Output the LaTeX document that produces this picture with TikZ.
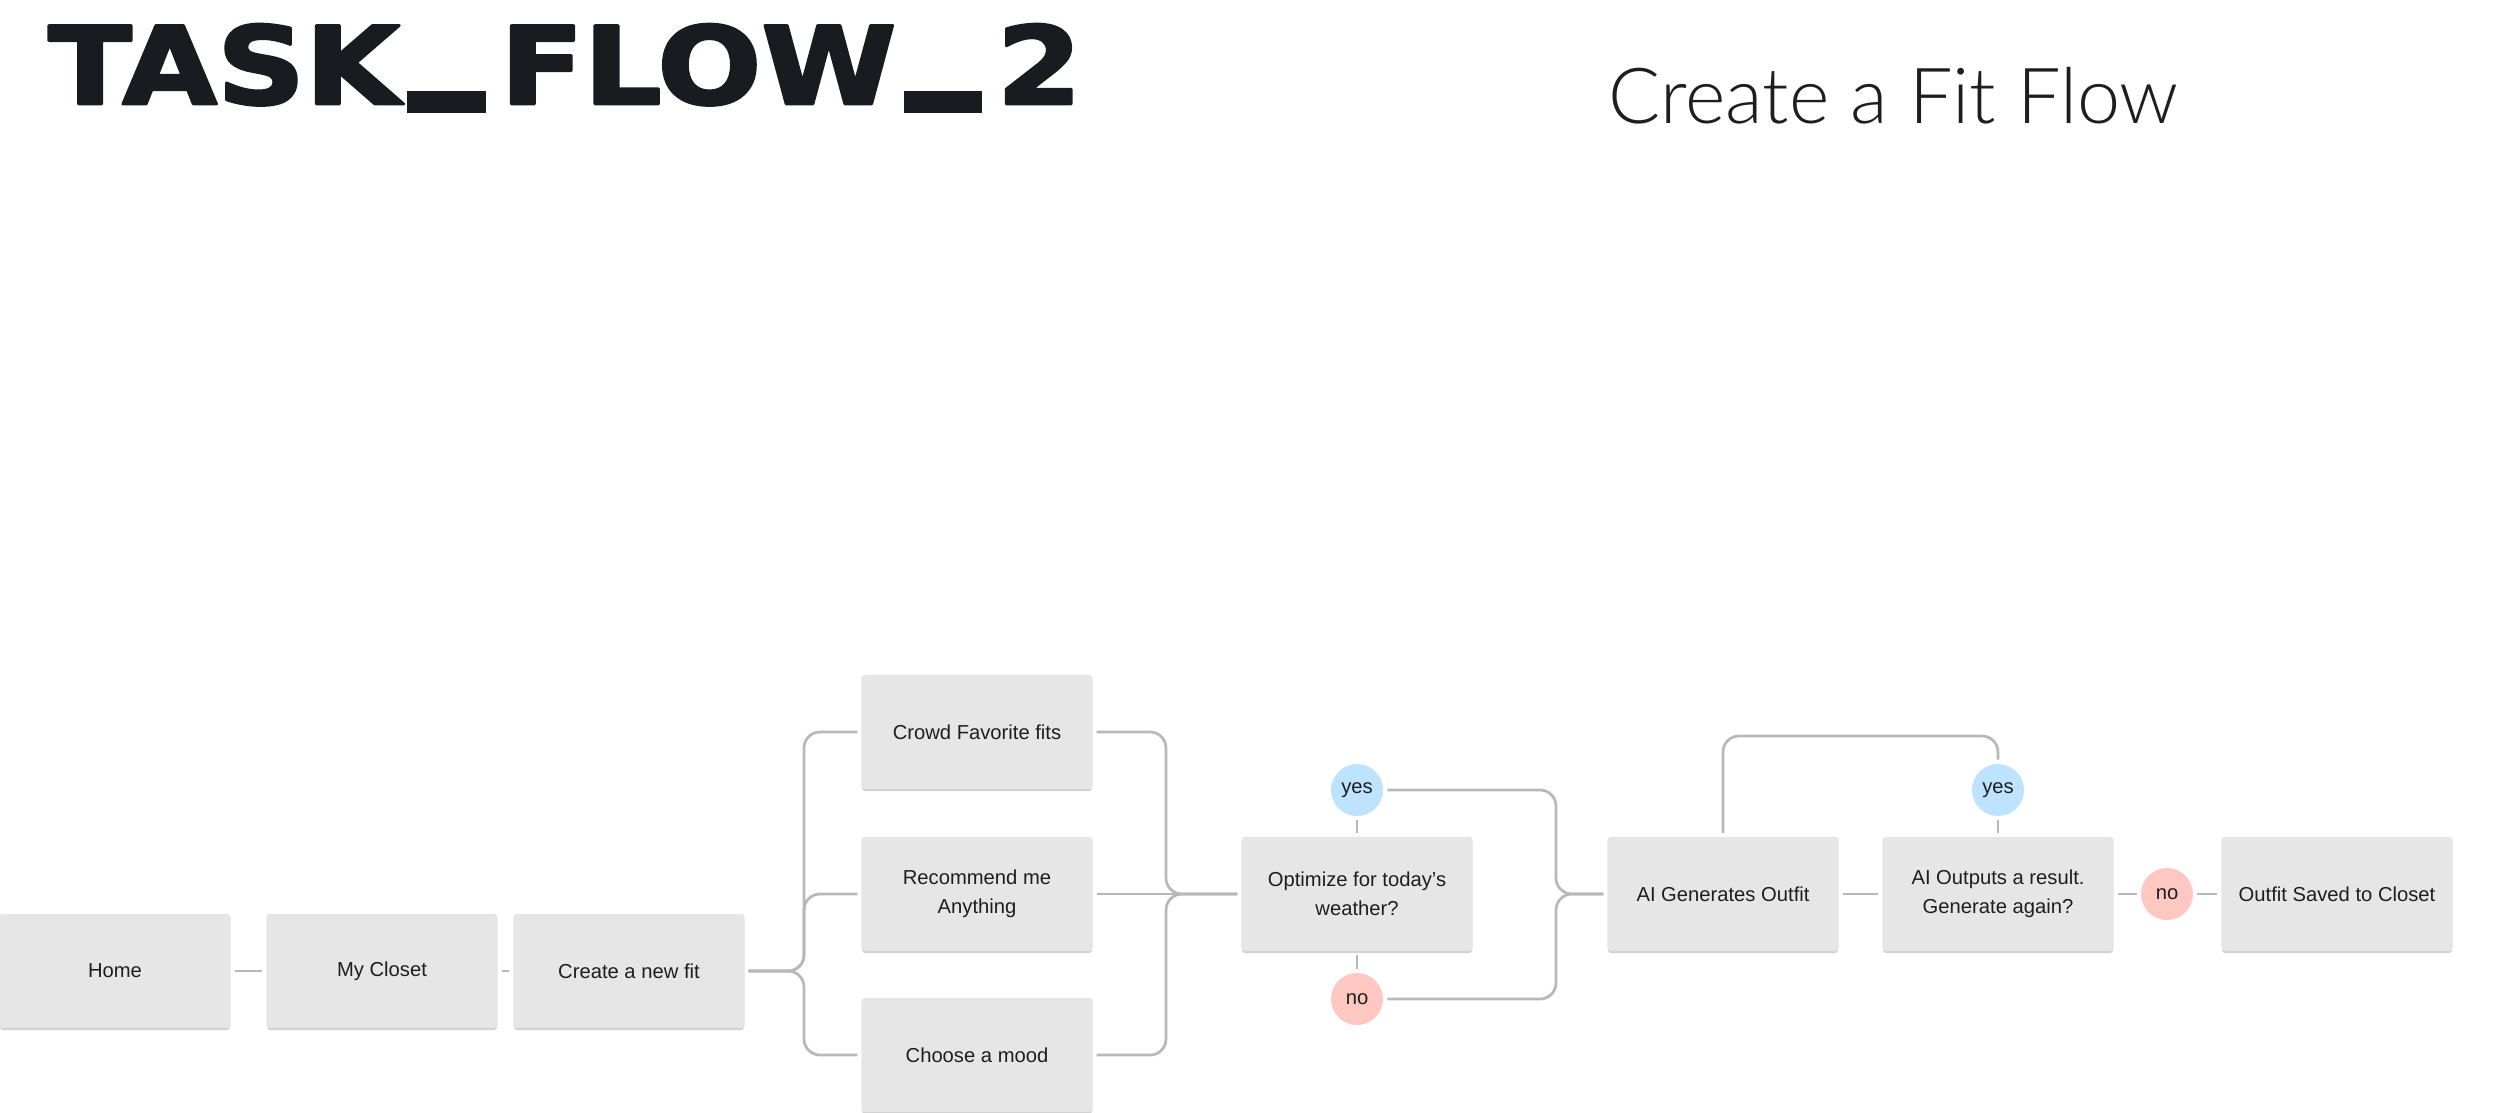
\documentclass[tikz,border=0pt]{standalone}
\usepackage{fontspec}
\setmainfont{Liberation Sans}
\newfontfamily\titlefont{DejaVu Sans}[BoldFeatures={FakeBold=2.5}]
\newfontfamily\headfont{Lato Light}
\usetikzlibrary{shadows}

\definecolor{ink}{HTML}{1E1E1E}
\definecolor{titleink}{HTML}{181B20}
\definecolor{boxfill}{HTML}{E6E6E6}
\definecolor{linkgray}{HTML}{B8B8B8}
\definecolor{yesblue}{HTML}{BDE3FF}
\definecolor{nopink}{HTML}{FFC7C2}

% thick bar used in place of the underscore of the board title
\newcommand{\titlebar}{\kern0.6pt\rule[-0.8pt]{6.4pt}{2pt}\kern1.2pt}

\begin{document}
\begin{tikzpicture}[x=0.2mm, y=-0.2mm, line join=round,
    box/.style={rectangle, rounded corners=0.6mm, fill=boxfill, draw=black!10,
      line width=0.25mm, minimum width=46mm, minimum height=22.6mm,
      align=center, text=ink, font=\fontsize{11.5}{16.5}\selectfont,
      drop shadow={shadow xshift=0mm, shadow yshift=-0.5mm, fill=black!30, opacity=0.6}},
    yesdot/.style={circle, fill=yesblue, minimum size=10.4mm, inner sep=0,
      text=ink, font=\fontsize{11.5}{14}\selectfont},
    nodot/.style={yesdot, fill=nopink},
    link/.style={draw=linkgray, line width=0.55mm, rounded corners=3.2mm,
      shorten <=0.8mm, shorten >=0.8mm}]
  % page frame (keeps the margins of the board)
  \useasboundingbox (0,0) rectangle (2500,1112);

  % headings
  \node[anchor=base west, inner sep=0, text=titleink] (title) at (48,104)
    {\resizebox{206.6mm}{16mm}{\titlefont\bfseries TASK\titlebar FLOW\titlebar 2}};
  \node[anchor=base west, inner sep=0, text=ink,
    font=\headfont\fontsize{44}{50}\selectfont] (heading) at (1608,123) {Create a Fit Flow};

  % entry path
  \node[box] (home) at (115,971) {Home};
  \node[box] (closet) at (382,971) {My Closet};
  \node[box] (newfit) at (629,971) {Create a new fit};

  % three ways to start a fit
  \node[box] (crowd) at (977,732) {Crowd Favorite fits};
  \node[box] (recommend) at (977,894) {Recommend me\\Anything};
  \node[box] (mood) at (977,1055) {Choose a mood};

  % weather question
  \node[box] (weather) at (1357,894) {Optimize for today’s\\weather?};
  \node[yesdot] (yesA) at (1357,790) {yes};
  \node[nodot] (noA) at (1357,999) {no};

  % generation loop
  \node[box] (generate) at (1723,894) {AI Generates Outfit};
  \node[box] (result) at (1998,894) {AI Outputs a result.\\Generate again?};
  \node[yesdot] (yesB) at (1998,790) {yes};
  \node[nodot] (noB) at (2167,894) {no};
  \node[box] (saved) at (2337,894) {Outfit Saved to Closet};

  % fork points
  \coordinate (splitL) at (804,971);
  \coordinate (joinL) at (1166,894);
  \coordinate (joinW) at (1556,894);
  \coordinate (looptop) at (1998,736);

  \draw[link] (home) -- (closet);
  \draw[link] (closet) -- (newfit);
  \foreach \way in {crowd,recommend,mood}
    \draw[link] (newfit.east) -- (splitL) -- (splitL |- \way.west) -- (\way.west);
  \foreach \way in {crowd,mood}
    \draw[link] (\way.east) -- (joinL |- \way.east) -- (joinL) -- (weather.west);
  \draw[link] (recommend.east) -- (weather.west);
  \draw[link] (weather.north) -- (yesA.south);
  \draw[link] (weather.south) -- (noA.north);
  \draw[link] (yesA.east) -- (joinW |- yesA.east) -- (joinW) -- (generate.west);
  \draw[link] (noA.east) -- (joinW |- noA.east) -- (joinW) -- (generate.west);
  \draw[link] (generate.east) -- (result.west);
  \draw[link] (result.north) -- (yesB.south);
  \draw[link] (yesB.north) -- (looptop) -- (looptop -| generate.north) -- (generate.north);
  \draw[link] (result.east) -- (noB.west);
  \draw[link] (noB.east) -- (saved.west);
\end{tikzpicture}
\end{document}
